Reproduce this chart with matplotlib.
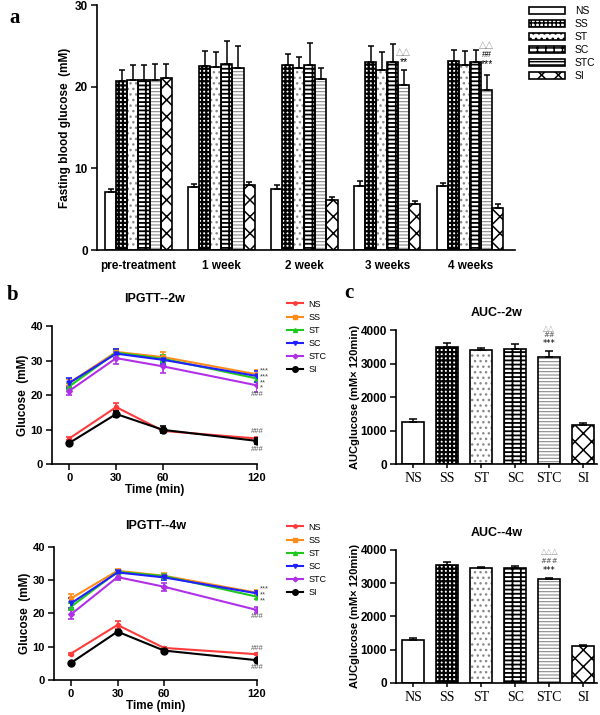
import matplotlib
matplotlib.use("Agg")
import matplotlib.pyplot as plt
from matplotlib.patches import Patch
from matplotlib.lines import Line2D
import numpy as np

plt.rcParams['font.family'] = ['Liberation Sans', 'DejaVu Sans']
plt.rcParams['axes.linewidth'] = 1.2

groups = ['NS', 'SS', 'ST', 'SC', 'STC', 'SI']
periods = ['pre-treatment', '1 week', '2 week', '3 weeks', '4 weeks']

# panel a: fasting blood glucose (mean, top of error bar), rows = groups
fbg_mean = {
    'NS':  [7.1, 7.7, 7.5, 7.8, 7.9],
    'SS':  [20.7, 22.5, 22.7, 23.0, 23.2],
    'ST':  [20.8, 22.4, 22.3, 22.1, 22.6],
    'SC':  [20.8, 22.8, 22.7, 23.0, 23.0],
    'STC': [20.8, 22.3, 21.0, 20.2, 19.6],
    'SI':  [21.1, 8.0, 6.1, 5.6, 5.1],
}
fbg_top = {
    'NS':  [7.5, 8.1, 8.0, 8.4, 8.2],
    'SS':  [22.1, 24.4, 24.0, 25.0, 24.5],
    'ST':  [22.7, 24.3, 23.6, 24.2, 24.4],
    'SC':  [22.7, 25.6, 25.3, 25.2, 24.5],
    'STC': [22.8, 25.0, 22.3, 22.1, 21.4],
    'SI':  [22.8, 8.3, 6.5, 6.0, 5.6],
}

# panel b: IPGTT
times = [0, 30, 60, 120]
ipgtt_2w = {
    'NS':  [7.4, 16.5, 9.6, 7.4],
    'SS':  [23.5, 32.5, 31.0, 26.0],
    'ST':  [22.5, 32.3, 30.5, 24.8],
    'SC':  [23.5, 32.0, 30.2, 25.5],
    'STC': [21.2, 30.7, 28.3, 22.8],
    'SI':  [6.1, 14.5, 9.9, 6.7],
}
ipgtt_2w_err = {
    'NS':  [0.4, 1.2, 0.5, 0.5],
    'SS':  [1.2, 0.8, 1.5, 1.2],
    'ST':  [1.0, 0.8, 1.0, 1.0],
    'SC':  [1.5, 1.2, 1.2, 1.6],
    'STC': [1.3, 1.8, 1.8, 2.0],
    'SI':  [0.3, 0.9, 1.0, 0.8],
}
ipgtt_4w = {
    'NS':  [7.9, 16.5, 9.6, 7.7],
    'SS':  [24.5, 32.8, 31.3, 26.2],
    'ST':  [22.0, 32.5, 31.2, 25.0],
    'SC':  [23.0, 32.3, 30.8, 26.0],
    'STC': [19.7, 30.9, 28.0, 21.0],
    'SI':  [5.1, 14.5, 8.8, 5.9],
}
ipgtt_4w_err = {
    'NS':  [0.3, 1.3, 0.4, 0.3],
    'SS':  [1.2, 0.5, 0.9, 0.8],
    'ST':  [1.0, 0.5, 0.7, 0.7],
    'SC':  [1.5, 0.6, 0.8, 0.8],
    'STC': [1.5, 0.8, 1.2, 1.0],
    'SI':  [0.3, 0.5, 0.4, 0.3],
}

# panel c: AUC
auc_2w = [1250, 3480, 3400, 3420, 3200, 1160]
auc_2w_top = [1330, 3620, 3470, 3580, 3380, 1230]
auc_4w = [1290, 3540, 3460, 3470, 3130, 1100]
auc_4w_top = [1340, 3650, 3500, 3510, 3170, 1130]

line_colors = {'NS': '#ff3b3b', 'SS': '#ff8c1a', 'ST': '#1fc81f',
               'SC': '#1f1fff', 'STC': '#b030e8', 'SI': 'black'}
line_markers = {'NS': 'o', 'SS': 's', 'ST': '^', 'SC': 'v', 'STC': 'D', 'SI': 'o'}
line_ms = {'NS': 3, 'SS': 3.5, 'ST': 3.5, 'SC': 3.5, 'STC': 3, 'SI': 5}

# bar fill styles: facecolor, hatch, hatch colour, hatch linewidth
bar_style = {
    'NS':  ('white', None, 'black', 1.0),
    'SS':  ('white', '++++', 'black', 1.6),
    'ST':  ('white', '...', '#8a8a8a', 1.0),
    'SC':  ('white', '----||', 'black', 1.3),
    'STC': ('white', '-----', '#8a8a8a', 0.8),
    'SI':  ('white', 'xx', 'black', 1.1),
}


def hatched_bar(ax, x, h, w, g):
    fc, hatch, hc, hlw = bar_style[g]
    plt.rcParams['hatch.linewidth'] = hlw
    bars = ax.bar(x, h, w, color=fc, hatch=hatch, edgecolor=hc, linewidth=0, zorder=2)
    for b in bars:
        if hasattr(b, 'set_hatch_linewidth'):
            b.set_hatch_linewidth(hlw)
    ax.bar(x, h, w, facecolor='none', edgecolor='black', linewidth=1.2, zorder=3)


def style_axes(ax):
    ax.spines['top'].set_visible(False)
    ax.spines['right'].set_visible(False)
    ax.tick_params(direction='out', length=4, width=1.1, pad=2.5)
    for lab in ax.get_yticklabels() + ax.get_xticklabels():
        lab.set_fontweight('bold')


fig = plt.figure(figsize=(6, 7.15), dpi=100)

# ---------------- panel a ----------------
axa = fig.add_axes([0.1617, 0.6503, 0.6967, 0.3427])
nper = len(periods)
xg = np.arange(nper)
bw = 0.8 / len(groups)
for i, g in enumerate(groups):
    xs = xg - 0.4 + (i + 0.5) * bw
    hatched_bar(axa, xs, fbg_mean[g], bw, g)
    up = np.array(fbg_top[g]) - np.array(fbg_mean[g])
    axa.errorbar(xs, fbg_mean[g], yerr=[np.zeros(nper), up], fmt='none',
                 ecolor='black', elinewidth=1.1, capsize=2, capthick=1.1, zorder=4)
axa.set_xlim(-0.5, 4.54)
axa.set_ylim(0, 30)
axa.set_yticks([0, 10, 20, 30])
axa.set_xticks(xg)
axa.set_xticklabels(periods, fontsize=8.5)
axa.tick_params(axis='y', labelsize=8.5)
style_axes(axa)
axa.tick_params(axis='x', length=0, pad=7)
axa.set_ylabel('Fasting blood glucose  (mM)', fontsize=8.5, fontweight='bold', labelpad=3)

stc_x = xg - 0.4 + 4.5 * bw
axa.text(stc_x[3], 24.2, '△△', ha='center', va='center', fontsize=7, color='#999999',
         family=['DejaVu Sans'])
axa.text(stc_x[3], 23.0, '**', ha='center', va='center', fontsize=7.5)
axa.text(stc_x[4], 25.1, '△△', ha='center', va='center', fontsize=7, color='#999999',
         family=['DejaVu Sans'])
axa.text(stc_x[4], 23.95, '##', ha='center', va='center', fontsize=6.5)
axa.text(stc_x[4], 22.8, '***', ha='center', va='center', fontsize=7.5)

handles = []
for g in groups:
    fc, hatch, hc, hlw = bar_style[g]
    handles.append(Patch(facecolor=fc, hatch=hatch, edgecolor='black', linewidth=1.2, label=g))
fig.legend(handles=handles, loc='upper left', bbox_to_anchor=(0.875, 0.997), frameon=False,
           fontsize=7.5, handlelength=3.4, handleheight=0.7, labelspacing=0.28,
           handletextpad=1.0, borderaxespad=0)

fig.text(0.015, 0.975, 'a', fontsize=15, fontweight='bold', family='Liberation Serif',
         va='center')


# ---------------- panel b ----------------
def ipgtt_panel(rect, data, err, title, stars, hashes, leg_y, tpad):
    ax = fig.add_axes(rect)
    for g in groups:
        ax.errorbar(times, data[g], yerr=err[g], color=line_colors[g], marker=line_markers[g],
                    ms=line_ms[g], lw=1.5, elinewidth=1.2, capsize=2.5, capthick=1.2,
                    mec=line_colors[g], zorder=3 if g != 'SI' else 4)
    ax.set_xlim(-11, 120)
    ax.set_ylim(0, 40)
    ax.set_xticks(times)
    ax.set_yticks([0, 10, 20, 30, 40])
    ax.tick_params(labelsize=8)
    style_axes(ax)
    ax.set_xlabel('Time (min)', fontsize=8.5, fontweight='bold', labelpad=1)
    ax.set_ylabel('Glucose  (mM)', fontsize=8.5, fontweight='bold', labelpad=1)
    ax.set_title(title, fontsize=9, fontweight='bold', pad=tpad)
    ytop, lines = stars
    ax.text(122, ytop, '\n'.join(lines), ha='left', va='top', fontsize=5.5, color='#444444',
            linespacing=0.75, clip_on=False)
    for y in hashes:
        ax.text(120, y, '###', ha='center', va='center', fontsize=5.5, color='#555555',
                clip_on=False)
    hs = [Line2D([0], [0], color=line_colors[g], marker=line_markers[g], ms=line_ms[g] * 0.8,
                 lw=1.5, label=g) for g in groups]
    fig.legend(handles=hs, loc='upper left', bbox_to_anchor=(0.472, leg_y), frameon=False,
               fontsize=6.5, handlelength=1.8, labelspacing=0.45, handletextpad=0.6,
               borderaxespad=0)
    return ax


ipgtt_panel([0.0867, 0.351, 0.3417, 0.193], ipgtt_2w, ipgtt_2w_err, 'IPGTT--2w',
            (28.0, ['***', '***', '**', '*']), [20.3, 9.4, 4.3], 1 - 296 / 715, 17)
ipgtt_panel([0.09, 0.0492, 0.3383, 0.186], ipgtt_4w, ipgtt_4w_err, 'IPGTT--4w',
            (28.3, ['***', '**', '**']), [19.0, 9.3, 3.85], 1 - 519 / 715, 13)

fig.text(0.012, 0.587, 'b', fontsize=15, fontweight='bold', family='Liberation Serif',
         va='center')
fig.text(0.573, 0.590, 'c', fontsize=15, fontweight='bold', family='Liberation Serif',
         va='center')


# ---------------- panel c ----------------
def auc_panel(rect, vals, tops, title, notes):
    ax = fig.add_axes(rect)
    xs = np.arange(len(groups))
    for i, g in enumerate(groups):
        hatched_bar(ax, [xs[i]], [vals[i]], 0.65, g)
    up = np.array(tops) - np.array(vals)
    ax.errorbar(xs, vals, yerr=[np.zeros(len(xs)), up], fmt='none', ecolor='black',
                elinewidth=1.1, capsize=3, capthick=1.1, zorder=4)
    ax.set_xlim(-0.5, 5.4)
    ax.set_ylim(0, 4000)
    ax.set_yticks([0, 1000, 2000, 3000, 4000])
    ax.set_xticks(xs)
    ax.tick_params(labelsize=8.5)
    style_axes(ax)
    ax.set_xticklabels(groups, fontsize=10, family='Liberation Serif', fontweight='normal')
    ax.tick_params(axis='x', length=3)
    ax.set_ylabel('AUCglucose (mM× 120min)', fontsize=8, fontweight='bold', labelpad=0)
    ax.set_title(title, fontsize=9, fontweight='bold', pad=10)
    for y, s, c, fs in notes:
        ax.text(4, y, s, ha='center', va='center', fontsize=fs, color=c,
                family=['DejaVu Sans'], clip_on=False)
    return ax


auc_panel([0.66, 0.351, 0.335, 0.1874], auc_2w, auc_2w_top, 'AUC--2w',
          [(4060, '△△', '#999999', 5.5), (3840, '##', '#555555', 5),
           (3610, '***', 'black', 6)])
auc_panel([0.66, 0.0448, 0.335, 0.186], auc_4w, auc_4w_top, 'AUC--4w',
          [(3950, '△△△', '#999999', 5.5), (3660, '###', '#555555', 5),
           (3370, '***', 'black', 6)])

fig.savefig('out.png', dpi=100)
